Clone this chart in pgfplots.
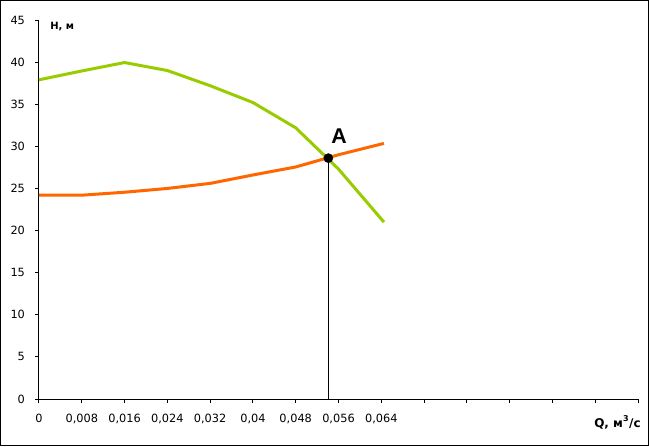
\documentclass[border=0pt]{standalone}
\usepackage{pgfplots}
\pgfplotsset{compat=1.18}
\usepackage{fontspec}
\setmainfont{Liberation Sans}
\newfontfamily\dejavu{DejaVu Sans}
\definecolor{cgreen}{RGB}{153,204,0}
\definecolor{corange}{RGB}{255,102,0}
\begin{document}
\begin{tikzpicture}
\begin{axis}[
  scale only axis, width=449.25pt, height=284.25pt,
  xmin=0, xmax=0.112, ymin=0, ymax=45,
  axis x line*=bottom, axis y line*=left,
  axis line style={-, black, line width=0.75pt},
  xtick={0,0.008,0.016,0.024,0.032,0.04,0.048,0.056,0.064,0.072,0.08,0.088,0.096,0.104,0.112},
  xticklabels={0,{0,008},{0,016},{0,024},{0,032},{0,04},{0,048},{0,056},{0,064},,,,,,},
  ytick={0,5,...,45},
  tick align=outside, major tick length=3pt,
  tick style={black, line width=0.75pt},
  ticklabel style={font=\dejavu\fontsize{8.5}{10}\selectfont},
  /pgf/number format/assume math mode=true,
  xticklabel style={yshift=-4.5pt},
  yticklabel style={xshift=-4pt},
  clip=false,
]
\addplot[cgreen, line width=2.25pt, sharp plot] coordinates {
 (0,37.9) (0.008,38.95) (0.016,39.95) (0.024,39.0) (0.032,37.2) (0.04,35.2) (0.048,32.2) (0.056,27.3) (0.0645,21.0)};
\addplot[corange, line width=2.25pt, sharp plot] coordinates {
 (0,24.2) (0.008,24.2) (0.016,24.55) (0.024,25.0) (0.032,25.6) (0.04,26.6) (0.048,27.55) (0.056,29.0) (0.0645,30.35)};
\addplot[black, line width=0.75pt] coordinates {(0.0541,0) (0.0541,28.6)};
\addplot[only marks, mark=*, mark size=3.4pt, black] coordinates {(0.0541,28.6)};
\node[anchor=base, font=\fontsize{16}{18}\selectfont\bfseries, inner sep=0pt] at (axis cs:0.0561,30.3) {A};
\coordinate (O) at (rel axis cs:0,0);
\node[anchor=base west, inner sep=0pt, font=\dejavu\fontsize{7.5}{10}\selectfont\bfseries] at ([xshift=8.25pt,yshift=-6.75pt]rel axis cs:0,1) {H, м};
\node[anchor=base east, inner sep=0pt, font=\dejavu\fontsize{9}{10}\selectfont\bfseries] at ([xshift=2.25pt,yshift=-21pt]rel axis cs:1,0) {Q, м\textsuperscript{3}/с};
\end{axis}
\draw[black, line width=0.75pt] ([xshift=-28.875pt,yshift=-34.875pt]O) rectangle ([xshift=457.125pt,yshift=298.875pt]O);
\end{tikzpicture}
\end{document}
